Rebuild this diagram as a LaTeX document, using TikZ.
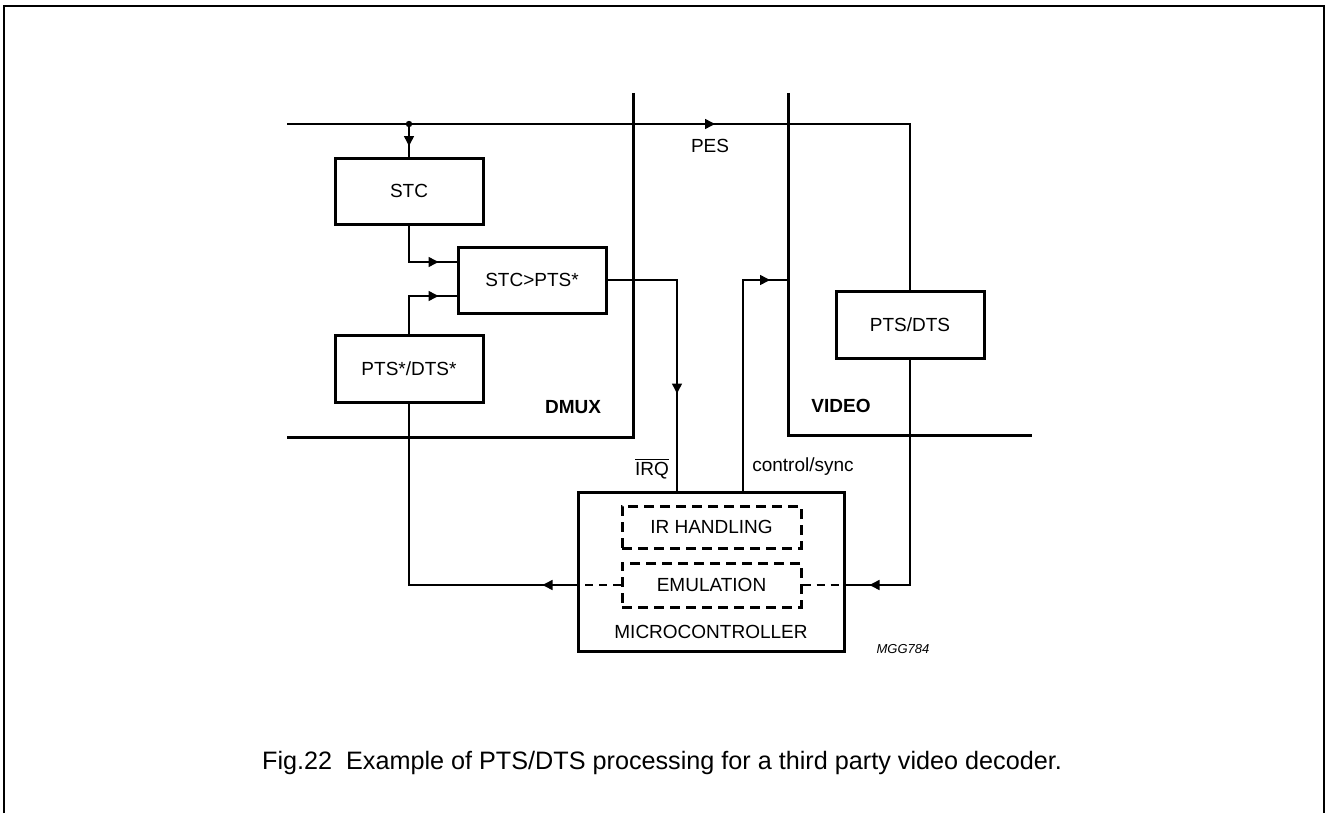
\documentclass[tikz,border=0pt]{standalone}
\usepackage{fontspec}
\setmainfont{Liberation Sans}
\usetikzlibrary{arrows.meta,decorations.markings}

\begin{document}
\begin{tikzpicture}[x=0.5pt,y=-0.5pt,
  font=\fontsize{9.5}{11}\selectfont,
  blockbox/.style={draw,line width=1.5pt,minimum width=74pt,minimum height=33pt,inner sep=0pt},
  dashbox/.style={draw,line width=1.5pt,dash pattern=on 5pt off 3pt,minimum width=89.5pt,minimum height=21pt,inner sep=0pt},
  wire/.style={line width=0.75pt},
  wall/.style={line width=1.5pt},
  tipat/.style={postaction={decorate},decoration={markings,mark=at position #1 with {\arrow{Triangle[length=5pt,width=5pt]}}}}]
	\useasboundingbox (0,0) rectangle (1326,813);
	\draw[line width=1pt] (4,813) -- (4,6) -- (1324,6) -- (1324,813);

	% blocks
	\node[blockbox]							(stc)		at (409,191)	{STC};
	\node[blockbox]							(cmp)		at (532,280)	{STC>PTS*};
	\node[blockbox,minimum height=33.5pt]	(ptsd)		at (409,368.5)	{PTS*/DTS*};
	\node[blockbox,minimum height=33.5pt]	(vpts)		at (910,324.5)	{PTS/DTS};
	\node[draw,line width=1.5pt,minimum width=133pt,minimum height=79.5pt]	(micro)	at (711,571.5)	{};
	\node									(microlbl)	at (711,632)	{MICROCONTROLLER};
	\node[dashbox]							(irh)		at (711.5,527)	{IR HANDLING};
	\node[dashbox,minimum height=22pt]		(emu)		at (711.5,585)	{EMULATION};

	\coordinate (pesin) at (287,124);
	\coordinate (tap)   at (409,124);
	\coordinate (vidin) at (788,280);

	% DMUX and VIDEO borders
	\draw[wall] (633,93) -- (633,437) -- (287,437);
	\draw[wall] (788,93) -- (788,435) -- (1032,435);

	% connections
	\draw[wire,tipat=214pt] (pesin) -| (vpts.north);
	\fill (tap) circle (1.6pt);
	\draw[wire,tipat=11pt] (tap) -- (stc.north);
	\draw[wire,tipat=-9pt] (stc.south) |- ([yshift=9pt]cmp.west);
	\draw[wire,tipat=-9pt] (ptsd.north) |- ([yshift=-8pt]cmp.west);
	\draw[wire,tipat=91.5pt] (cmp.east) -| ([xshift=-17pt]micro.north);
	\draw[wire,tipat=-9pt] ([xshift=16pt]micro.north) |- (vidin);
	\draw[wire,tipat=-12pt] (vpts.south) |- (micro.east |- emu.east);
	\draw[wire,tipat=17pt] (micro.west |- emu.west) -| (ptsd.south);
	\draw[wire,dash pattern=on 4pt off 3pt] (emu.west) -- (micro.west |- emu.west);
	\draw[wire,dash pattern=on 4pt off 3pt] (emu.east) -- (micro.east |- emu.east);

	% labels
	\node									(pes)	at (710,146)	{PES};
	\node[font=\fontsize{9.5}{11}\selectfont\bfseries]	(dmux)	at (573,407)	{DMUX};
	\node[font=\fontsize{9.5}{11}\selectfont\bfseries]	(video)	at (841,406)	{VIDEO};
	\node									(irq)	at (652,469)	{$\overline{\hbox{IRQ}}$};
	\node									(ctrl)	at (803,467)	{control/sync};
	\node[font=\fontsize{6.5}{8}\selectfont\itshape]	(mgg)	at (903,649)	{MGG784};
	\node[font=\fontsize{12.6}{15}\selectfont]			(caption)	at (662,763)	{Fig.22\ \ Example of PTS/DTS processing for a third party video decoder.};
\end{tikzpicture}
\end{document}
